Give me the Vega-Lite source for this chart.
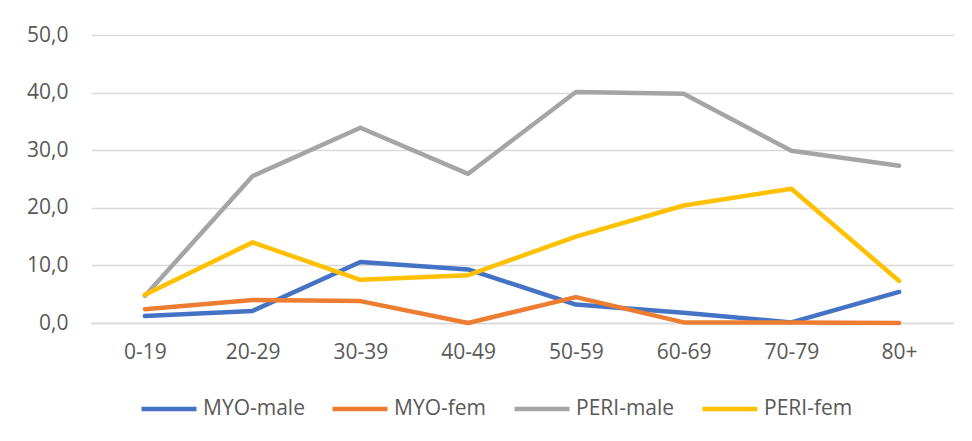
{
  "$schema": "https://vega.github.io/schema/vega-lite/v6.json",
  "width": 862,
  "height": 288,
  "autosize": "none",
  "padding": {"left": 91, "top": 35, "right": 19, "bottom": 118},
  "background": "white",
  "config": {
    "view": {"stroke": null},
    "font": "Open Sans",
    "axis": {"labelFont": "Open Sans", "labelColor": "#595959", "labelFontSize": 21},
    "legend": {"labelFont": "Open Sans", "labelColor": "#595959", "labelFontSize": 21}
  },
  "data": {
    "values": [
      {"age": "0-19", "series": "MYO-male", "value": 1.2},
      {"age": "20-29", "series": "MYO-male", "value": 2.1},
      {"age": "30-39", "series": "MYO-male", "value": 10.6},
      {"age": "40-49", "series": "MYO-male", "value": 9.3},
      {"age": "50-59", "series": "MYO-male", "value": 3.2},
      {"age": "60-69", "series": "MYO-male", "value": 1.8},
      {"age": "70-79", "series": "MYO-male", "value": 0.1},
      {"age": "80+", "series": "MYO-male", "value": 5.4},
      {"age": "0-19", "series": "MYO-fem", "value": 2.4},
      {"age": "20-29", "series": "MYO-fem", "value": 4.0},
      {"age": "30-39", "series": "MYO-fem", "value": 3.8},
      {"age": "40-49", "series": "MYO-fem", "value": 0.0},
      {"age": "50-59", "series": "MYO-fem", "value": 4.5},
      {"age": "60-69", "series": "MYO-fem", "value": 0.1},
      {"age": "70-79", "series": "MYO-fem", "value": 0.1},
      {"age": "80+", "series": "MYO-fem", "value": 0.0},
      {"age": "0-19", "series": "PERI-male", "value": 4.7},
      {"age": "20-29", "series": "PERI-male", "value": 25.5},
      {"age": "30-39", "series": "PERI-male", "value": 33.9},
      {"age": "40-49", "series": "PERI-male", "value": 25.9},
      {"age": "50-59", "series": "PERI-male", "value": 40.1},
      {"age": "60-69", "series": "PERI-male", "value": 39.8},
      {"age": "70-79", "series": "PERI-male", "value": 29.9},
      {"age": "80+", "series": "PERI-male", "value": 27.3},
      {"age": "0-19", "series": "PERI-fem", "value": 4.9},
      {"age": "20-29", "series": "PERI-fem", "value": 14.0},
      {"age": "30-39", "series": "PERI-fem", "value": 7.5},
      {"age": "40-49", "series": "PERI-fem", "value": 8.3},
      {"age": "50-59", "series": "PERI-fem", "value": 15.0},
      {"age": "60-69", "series": "PERI-fem", "value": 20.4},
      {"age": "70-79", "series": "PERI-fem", "value": 23.3},
      {"age": "80+", "series": "PERI-fem", "value": 7.3}
    ]
  },
  "mark": {"type": "line", "strokeWidth": 4.5, "strokeCap": "round", "strokeJoin": "round"},
  "encoding": {
    "x": {
      "field": "age", "type": "ordinal", "sort": null,
      "scale": {"type": "point", "padding": 0.5},
      "axis": {"title": null, "labelAngle": 0, "ticks": false, "domainColor": "#d9d9d9", "domainWidth": 1.5, "labelPadding": 18, "grid": false}
    },
    "y": {
      "field": "value", "type": "quantitative",
      "scale": {"domain": [0, 50], "nice": false},
      "axis": {"title": null, "values": [0, 10, 20, 30, 40, 50], "labelExpr": "replace(format(datum.value, '.1f'), '.', ',')", "ticks": false, "domain": false, "gridColor": "#d9d9d9", "gridWidth": 1.5, "labelPadding": 23}
    },
    "color": {
      "field": "series", "type": "nominal",
      "scale": {"domain": ["MYO-male", "MYO-fem", "PERI-male", "PERI-fem"], "range": ["#4472C4", "#ED7D31", "#A5A5A5", "#FFC000"]},
      "legend": {"title": null, "orient": "none", "direction": "horizontal", "legendX": 48, "legendY": 344, "symbolType": "stroke", "symbolSize": 3025, "symbolStrokeWidth": 4.5, "labelOffset": 4, "columnPadding": 18}
    },
    "order": {"field": "series"}
  }
}
